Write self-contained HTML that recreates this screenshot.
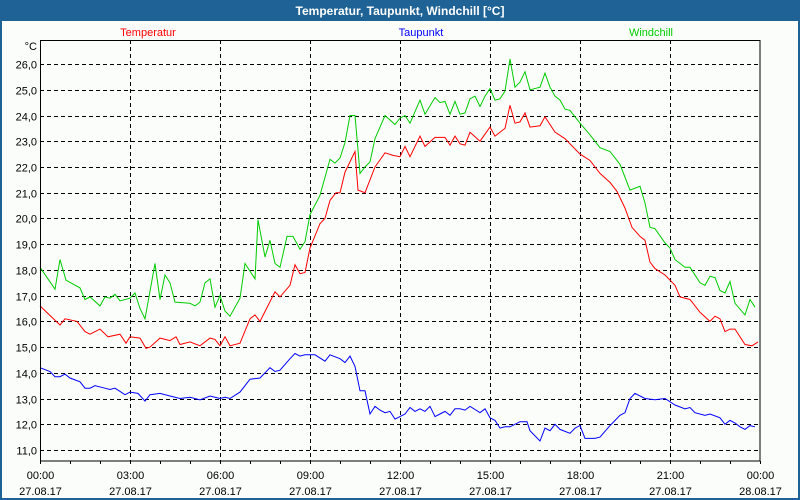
<!DOCTYPE html>
<html><head><meta charset="utf-8"><style>
html,body{margin:0;padding:0;background:#fbfdfb;}
svg{display:block;font-family:"Liberation Sans",sans-serif;}
</style></head><body>
<svg id="chart" width="800" height="500" xmlns="http://www.w3.org/2000/svg">
<rect x="0" y="0" width="800" height="500" fill="#fbfdfb"/>
<rect x="1" y="1" width="798" height="498" fill="none" stroke="#1f6396" stroke-width="2"/>
<rect x="0" y="0" width="800" height="21" fill="#1f6396"/>
<text x="400" y="15" text-anchor="middle" fill="#fff" font-size="12" font-weight="bold">Temperatur, Taupunkt, Windchill [°C]</text>
<text x="148" y="36" text-anchor="middle" fill="#ff0000" font-size="11">Temperatur</text>
<text x="421" y="36" text-anchor="middle" fill="#0000ff" font-size="11">Taupunkt</text>
<text x="651" y="36" text-anchor="middle" fill="#00cc00" font-size="11">Windchill</text>
<text x="37" y="50" text-anchor="end" fill="#000" font-size="11">°C</text>
<g id="grid"></g>
<g id="series"></g>
<rect x="40.5" y="40.5" width="719.5" height="420.5" fill="none" stroke="#000" stroke-width="1"/>
<g id="axes"></g>
</svg>
<script>
const yTicks = [11,12,13,14,15,16,17,18,19,20,21,22,23,24,25,26];
const xTickHours = [0,3,6,9,12,15,18,21,24];
const xTimeLabels = ["00:00","03:00","06:00","09:00","12:00","15:00","18:00","21:00","00:00"];
const xDateLabels = ["27.08.17","27.08.17","27.08.17","27.08.17","27.08.17","27.08.17","27.08.17","27.08.17","28.08.17"];

const tempMin = [0,40,50,74,90,100,120,136,160,172,180,200,212,220,240,260,272,280,300,320,340,350,360,370,380,400,420,430,440,470,480,500,510,520,530,540,560,570,580,592,600,610,630,636,650,670,690,706,720,730,740,760,770,790,810,820,830,840,850,860,880,900,910,930,940,950,960,970,980,1000,1010,1030,1050,1080,1100,1120,1140,1154,1170,1184,1200,1210,1220,1230,1250,1270,1280,1300,1320,1340,1350,1360,1370,1380,1390,1410,1424,1436];
const tempVal = [16.6,15.86,16.1,16.0,15.6,15.5,15.7,15.4,15.5,15.15,15.4,15.35,14.95,15.0,15.35,15.25,15.4,15.1,15.2,15.05,15.35,15.3,15.05,15.4,15.05,15.15,16.1,16.25,16.0,17.15,16.95,17.4,18.2,17.85,17.9,18.85,19.8,20.0,20.7,21.0,21.0,21.8,22.6,21.1,21.0,22.0,22.55,22.45,22.4,22.8,22.4,23.2,22.8,23.15,23.15,22.85,23.2,22.9,22.85,23.35,23.0,23.55,23.2,23.5,24.4,23.7,23.75,24.1,23.55,23.6,23.95,23.35,23.1,22.5,22.25,21.75,21.4,21.05,20.4,19.65,19.3,19.15,18.3,18.05,17.8,17.4,16.95,16.85,16.35,16.0,16.2,16.1,15.6,15.7,15.7,15.1,15.05,15.2];

const dewMin = [0,20,30,40,50,60,80,90,100,110,130,140,150,170,180,196,210,220,240,260,280,300,320,340,360,370,380,400,420,440,460,470,480,500,510,520,530,550,570,580,600,610,620,630,640,650,660,670,680,690,700,710,720,730,740,750,760,770,780,790,800,810,820,830,840,850,860,880,890,900,910,920,930,940,960,974,980,1000,1010,1020,1030,1040,1060,1070,1080,1090,1110,1120,1140,1160,1170,1180,1190,1210,1230,1250,1270,1290,1300,1310,1330,1340,1360,1370,1380,1390,1400,1410,1420,1430];
const dewVal = [14.2,14.05,13.85,13.85,13.95,13.8,13.65,13.4,13.4,13.5,13.4,13.35,13.4,13.15,13.25,13.2,12.9,13.15,13.2,13.1,13.0,13.05,12.95,13.1,13.0,13.05,13.0,13.25,13.75,13.8,14.2,14.05,14.1,14.55,14.75,14.65,14.7,14.7,14.45,14.7,14.55,14.4,14.65,14.25,13.3,13.3,12.4,12.7,12.55,12.45,12.5,12.2,12.3,12.4,12.65,12.5,12.6,12.5,12.7,12.3,12.4,12.5,12.35,12.6,12.6,12.55,12.7,12.45,12.6,12.25,12.15,11.85,11.9,11.9,12.1,12.1,11.75,11.35,11.85,11.75,12.0,11.8,11.65,11.85,11.95,11.45,11.45,11.5,11.95,12.35,12.45,13.0,13.2,13.0,12.95,13.0,12.75,12.6,12.65,12.45,12.35,12.4,12.25,12.0,12.15,12.05,11.9,11.8,11.95,11.9];

const windMin = [0,30,40,52,80,90,100,120,130,140,150,160,180,190,200,210,230,240,250,260,270,300,310,320,330,340,350,360,370,380,400,410,430,436,450,460,470,480,494,506,520,530,540,560,580,590,600,610,620,630,640,650,660,670,690,710,720,730,740,760,770,790,800,810,820,830,840,850,860,870,880,890,900,910,920,930,940,950,960,970,980,1000,1010,1020,1030,1040,1050,1060,1080,1100,1120,1140,1160,1180,1200,1210,1220,1230,1250,1260,1270,1290,1300,1320,1330,1340,1350,1360,1370,1380,1390,1410,1420,1430];
const windVal = [18.1,17.25,18.4,17.6,17.3,16.85,16.95,16.6,16.95,16.9,17.05,16.8,16.9,17.1,16.5,16.1,18.25,16.85,17.8,17.5,16.75,16.7,16.6,16.75,17.5,17.65,16.55,17.0,16.4,16.2,16.9,18.25,17.65,19.95,18.5,19.15,18.25,18.1,19.3,19.3,18.8,19.1,20.15,20.9,22.3,22.15,22.35,22.95,24.0,24.0,21.75,22.0,22.2,23.1,24.0,23.65,23.9,24.0,23.7,24.6,24.05,24.7,24.5,24.55,24.05,24.55,24.05,24.1,24.65,24.75,24.35,24.75,25.05,24.6,24.65,24.95,26.2,25.1,25.3,25.7,25.0,25.1,25.65,25.1,24.75,24.6,24.25,24.2,23.7,23.25,22.75,22.6,22.1,21.1,21.25,20.6,19.65,19.6,19.05,18.85,18.4,18.1,18.1,17.5,17.4,17.75,17.7,17.2,17.1,17.55,16.7,16.25,16.85,16.55];

const NS = "http://www.w3.org/2000/svg";
const X0 = 40, X1 = 760, Y11 = 450, PXU = 25.73;
function xScale(min){ return X0 + (min/1440)*(X1-X0); }
function yScale(v){ return Y11 - (v-11)*PXU; }
function mk(tag, attrs, parent){ const e=document.createElementNS(NS,tag); for(const k in attrs) e.setAttribute(k,attrs[k]); parent.appendChild(e); return e; }

const grid = document.getElementById('grid');
const axes = document.getElementById('axes');
yTicks.forEach(v=>{
  const y = Math.round(yScale(v))+0.5;
  const l = mk('line',{x1:X0,x2:X1,y1:y,y2:y,stroke:'#000','stroke-width':1,'stroke-dasharray':'4,3'},grid);
  
  
  const t = mk('text',{x:37,y:y+4,'text-anchor':'end','font-size':11,fill:'#000'},axes);
  
  
  t.textContent = v.toFixed(1).replace('.',',');
});
xTickHours.forEach((h,i)=>{
  const x = Math.round(xScale(h*60))+0.5;
  if(h>0 && h<24){
    const l = mk('line',{x1:x,x2:x,y1:40,y2:461,stroke:'#000','stroke-width':1,'stroke-dasharray':'4,3'},grid);
    
    
  }
  const t1 = mk('text',{x:x,y:479,'text-anchor':'middle','font-size':11,fill:'#000'},axes);
  
  
  t1.textContent = xTimeLabels[i];
  const t2 = mk('text',{x:x,y:495,'text-anchor':'middle','font-size':11,fill:'#000'},axes);
  
  
  t2.textContent = xDateLabels[i];
});
for(let h=0; h<=24; h++){
  const x = Math.round(xScale(h*60))+0.5;
  const l = mk('line',{x1:x,x2:x,y1:461,y2:464,stroke:'#000','stroke-width':1},axes);
  
  
}
const series = document.getElementById('series');
function drawLine(mins, vals, color, name){
  const pts = mins.map((m,i)=>xScale(m).toFixed(1)+','+yScale(vals[i]).toFixed(1)).join(' ');
  const p = mk('polyline',{points:pts,fill:'none',stroke:color,'stroke-width':1},series);
  
  
}
drawLine(dewMin, dewVal, '#0000ff', 'taupunkt-line');
drawLine(tempMin, tempVal, '#ff0000', 'temperatur-line');
drawLine(windMin, windVal, '#00cc00', 'windchill-line');
</script>
</body></html>
